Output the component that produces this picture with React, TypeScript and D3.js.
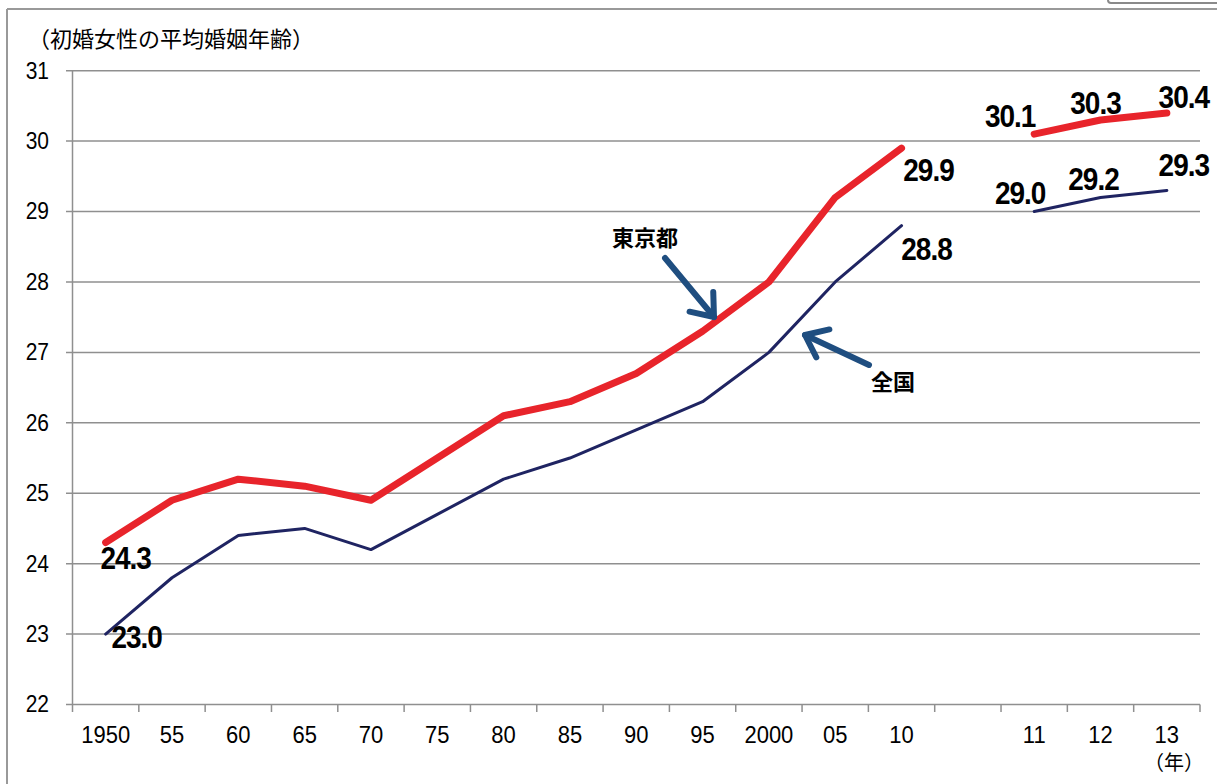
import React from "react";
import * as d3 from "d3";

const categories = ["1950", "55", "60", "65", "70", "75", "80", "85", "90", "95", "2000", "05", "10", "", "11", "12", "13"];
const tokyo: (number | null)[] = [24.3, 24.9, 25.2, 25.1, 24.9, 25.5, 26.1, 26.3, 26.7, 27.3, 28.0, 29.2, 29.9, null, 30.1, 30.3, 30.4];
const national: (number | null)[] = [23.0, 23.8, 24.4, 24.5, 24.2, 24.7, 25.2, 25.5, 25.9, 26.3, 27.0, 28.0, 28.8, null, 29.0, 29.2, 29.3];
const yTicks = [22, 23, 24, 25, 26, 27, 28, 29, 30, 31];

// indices of labelled points and label offsets
const tokyoLabels = [
  { i: 0, dx: 20, dy: 15 },
  { i: 12, dx: 27, dy: 22 },
  { i: 14, dx: -24, dy: -18 },
  { i: 15, dx: -5, dy: -17 },
  { i: 16, dx: 17, dy: -16 },
];
const nationalLabels = [
  { i: 0, dx: 31, dy: 3 },
  { i: 12, dx: 25, dy: 23 },
  { i: 14, dx: -14, dy: -19 },
  { i: 15, dx: -7, dy: -19 },
  { i: 16, dx: 17, dy: -25 },
];

const W = 1217;
const H = 784;
const left = 72.5;
const right = 1200;
const top = 70.7;
const bottom = 704.5;

const RED = "#e8242b";
const NAVY = "#1f2462";
const ARROW = "#1f4e80";
const GRID = "#8f8f8f";

export default function App() {
  const x = d3.scaleBand<number>().domain(categories.map((_, i) => i)).range([left, right]).padding(0);
  const cx = (i: number) => (x(i) as number) + x.bandwidth() / 2;
  const y = d3.scaleLinear().domain([22, 31]).range([bottom, top]);

  const line = d3
    .line<number | null>()
    .defined((d) => d !== null)
    .x((_, i) => cx(i))
    .y((d) => y(d as number));

  const numFont = "'Liberation Sans', Arial, sans-serif";
  const jpFont = "'Noto Sans CJK JP', sans-serif";

  const label = (vals: (number | null)[], l: { i: number; dx: number; dy: number }, key: string) => (
    <g key={key} transform={`translate(${cx(l.i) + l.dx},${y(vals[l.i] as number) + l.dy}) scale(1,1.12)`}>
      <text
        x={0}
        y={0}
        textAnchor="middle"
        dominantBaseline="central"
        fontFamily={numFont}
        fontWeight="bold"
        fontSize={28}
        letterSpacing={-1}
        fill="#000"
      >
        {(vals[l.i] as number).toFixed(1)}
      </text>
    </g>
  );

  const arrow = (x1: number, y1: number, x2: number, y2: number, key: string) => {
    const ang = Math.atan2(y2 - y1, x2 - x1);
    const len = 25;
    const spread = (38 * Math.PI) / 180;
    const a1 = [x2 - len * Math.cos(ang - spread), y2 - len * Math.sin(ang - spread)];
    const a2 = [x2 - len * Math.cos(ang + spread), y2 - len * Math.sin(ang + spread)];
    return (
      <g key={key} stroke={ARROW} strokeWidth={6} strokeLinecap="round" strokeLinejoin="round" fill="none">
        <line x1={x1} y1={y1} x2={x2} y2={y2} />
        <path d={`M${a1[0]},${a1[1]}L${x2},${y2}L${a2[0]},${a2[1]}`} />
      </g>
    );
  };

  return (
    <div style={{ position: "absolute", left: 0, top: 0, width: W, height: H, background: "#fff" }}>
      <svg width={W} height={H} style={{ display: "block" }}>
        <rect x={0} y={0} width={W} height={H} fill="#fff" />
        {/* frame */}
        <line x1={7} y1={9} x2={W} y2={9} stroke="#999" strokeWidth={2} />
        <line x1={7} y1={9} x2={7} y2={H} stroke="#999" strokeWidth={2} />
        <rect x={1108} y={-6} width={112} height={9} rx={3} fill="#fff" stroke="#8a8a8a" strokeWidth={2} />

        {/* title */}
        <text x={28} y={47} fontFamily={jpFont} fontSize={22} fill="#000">
          （初婚女性の平均婚姻年齢）
        </text>

        {/* gridlines and y ticks */}
        {yTicks.map((t) => (
          <g key={t}>
            <line x1={66} x2={right} y1={y(t)} y2={y(t)} stroke={GRID} strokeWidth={1.5} />
            <g transform={`translate(49,${y(t)}) scale(1,1.1)`}>
              <text
                x={0}
                y={0}
                textAnchor="end"
                dominantBaseline="central"
                fontFamily={numFont}
                fontSize={21}
                fill="#000"
              >
                {t}
              </text>
            </g>
          </g>
        ))}
        {/* y axis */}
        <line x1={left} x2={left} y1={top} y2={712} stroke={GRID} strokeWidth={1.5} />
        {/* x ticks */}
        {categories.map((_, i) => (
          <line
            key={"t" + i}
            x1={(x(i) as number) + x.bandwidth()}
            x2={(x(i) as number) + x.bandwidth()}
            y1={bottom}
            y2={712}
            stroke={GRID}
            strokeWidth={1.5}
          />
        ))}
        {categories.map((c, i) => (
          <g key={"c" + i} transform={`translate(${cx(i)},743) scale(1,1.12)`}>
            <text x={0} y={0} textAnchor="middle" fontFamily={numFont} fontSize={22} fill="#000">
              {c}
            </text>
          </g>
        ))}
        <text x={1204} y={770} textAnchor="end" fontFamily={jpFont} fontSize={20} fill="#000">
          （年）
        </text>

        {/* lines */}
        <path d={line(national) || ""} fill="none" stroke={NAVY} strokeWidth={3} strokeLinejoin="round" strokeLinecap="round" />
        <path d={line(tokyo) || ""} fill="none" stroke={RED} strokeWidth={7} strokeLinejoin="round" strokeLinecap="round" />

        {/* labels */}
        {tokyoLabels.map((l, k) => label(tokyo, l, "tl" + k))}
        {nationalLabels.map((l, k) => label(national, l, "nl" + k))}

        {/* annotations */}
        {arrow(665, 258, 714, 317, "a1")}
        {arrow(869, 365, 805, 335, "a2")}
        <text x={645} y={236} textAnchor="middle" dominantBaseline="central" fontFamily={jpFont} fontWeight="bold" fontSize={22} fill="#000">
          東京都
        </text>
        <text x={893} y={380} textAnchor="middle" dominantBaseline="central" fontFamily={jpFont} fontWeight="bold" fontSize={22} fill="#000">
          全国
        </text>
      </svg>
    </div>
  );
}
